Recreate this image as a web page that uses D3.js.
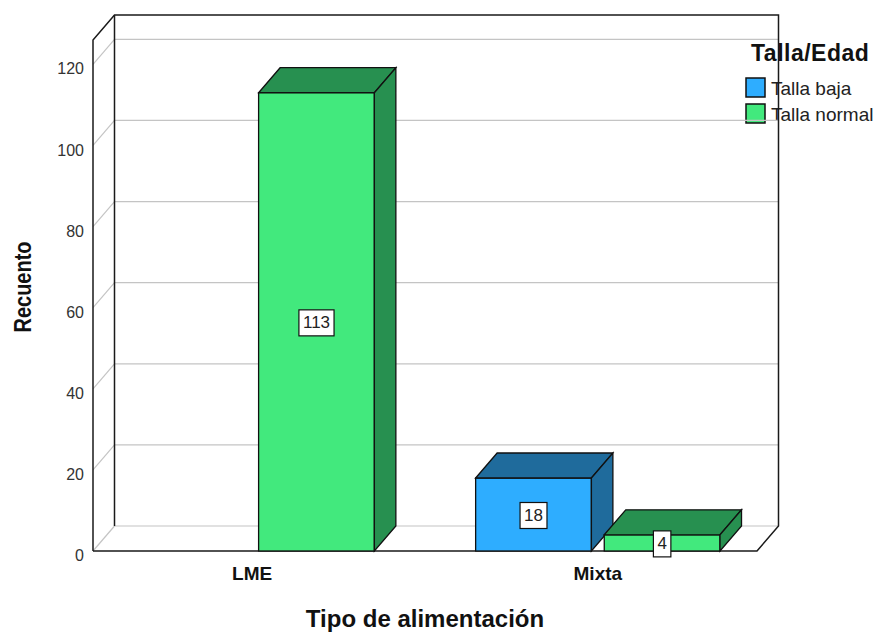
<!DOCTYPE html>
<html>
<head>
<meta charset="utf-8">
<script src="https://cdn.jsdelivr.net/npm/d3@7"></script>
<style>
  body { margin: 0; background: #fff; }
  text { font-family: "Liberation Sans", Arial, sans-serif; }
</style>
</head>
<body>
<div id="chart"></div>
<script>
// data
var categories = ["LME", "Mixta"];
var series = ["Talla baja", "Talla normal"];
var tallaBaja = [0, 18];
var tallaNormal = [113, 4];
var yTicks = [0, 20, 40, 60, 80, 100, 120];
var yMax = 126;

var w = 879;
var h = 633;
var plotLeft = 93, plotRight = 757, plotBottom = 551, plotTop = 40;
var dx = 21.5, dy = -25;   // depth of the 3d box

var frontColors = ["#2eadff", "#42e97d"];
var darkColors = ["#1f6b9c", "#279050"];

var svg = d3.select("#chart")
    .append("svg")
    .attr("width", w)
    .attr("height", h);

var yScale = d3.scaleLinear()
    .domain([0, yMax])
    .range([plotBottom, plotTop]);

var xScale = d3.scaleBand()
    .domain(categories)
    .range([plotLeft, plotRight])
    .paddingInner(0.293)
    .paddingOuter(0.107);

var subScale = d3.scaleBand()
    .domain(series)
    .range([0, xScale.bandwidth()])
    .paddingInner(0.1);

// rows for the bars
var rows = [];
categories.forEach(function (c, i) {
    rows.push({ cat: c, s: 0, value: tallaBaja[i] });
    rows.push({ cat: c, s: 1, value: tallaNormal[i] });
});

//Legend (drawn first, the frame line runs over it)
var legend = svg.append("g");
legend.append("text")
    .attr("x", 751)
    .attr("y", 61)
    .attr("font-size", "23px")
    .attr("font-weight", "bold")
    .attr("letter-spacing", "0.5px")
    .attr("fill", "#111")
    .text("Talla/Edad");

legend.selectAll("rect")
    .data(series)
    .enter()
    .append("rect")
    .attr("x", 746)
    .attr("y", function (d, i) { return 78 + i * 26; })
    .attr("width", 19)
    .attr("height", 19)
    .attr("fill", function (d, i) { return frontColors[i]; })
    .attr("stroke", "#111")
    .attr("stroke-width", 1.5);

legend.selectAll("text.item")
    .data(series)
    .enter()
    .append("text")
    .attr("class", "item")
    .attr("x", 771)
    .attr("y", function (d, i) { return 88 + i * 26; })
    .attr("dominant-baseline", "central")
    .attr("font-size", "19px")
    .attr("fill", "#222")
    .text(function (d) { return d; });

//Grid lines on back wall and left side
var grid = svg.append("g")
    .attr("stroke", "#c4c4c4")
    .attr("stroke-width", 1.2)
    .attr("fill", "none");

grid.selectAll("line.back")
    .data(yTicks)
    .enter()
    .append("line")
    .attr("class", "back")
    .attr("x1", plotLeft + dx)
    .attr("x2", plotRight + dx)
    .attr("y1", function (d) { return yScale(d) + dy; })
    .attr("y2", function (d) { return yScale(d) + dy; });

grid.selectAll("line.side")
    .data(yTicks)
    .enter()
    .append("line")
    .attr("class", "side")
    .attr("x1", plotLeft)
    .attr("x2", plotLeft + dx)
    .attr("y1", function (d) { return yScale(d); })
    .attr("y2", function (d) { return yScale(d) + dy; });

//Frame
var y0 = yScale(0), yTop = yScale(yMax);
var frame = [
    [[plotLeft, y0], [plotLeft, yTop], [plotLeft + dx, yTop + dy], [plotRight + dx, yTop + dy], [plotRight + dx, y0 + dy], [plotRight, y0], [plotLeft, y0]],
    [[plotLeft + dx, yTop + dy], [plotLeft + dx, y0 + dy]]
];
svg.selectAll("path.frame")
    .data(frame)
    .enter()
    .append("path")
    .attr("class", "frame")
    .attr("d", d3.line())
    .attr("fill", "none")
    .attr("stroke", "#1a1a1a")
    .attr("stroke-width", 1.5);

//Y axis
var yAxis = d3.axisLeft()
    .scale(yScale)
    .tickValues(yTicks)
    .tickSize(0)
    .tickPadding(9);

var gy = svg.append("g")
    .attr("transform", "translate(" + plotLeft + ",0)")
    .call(yAxis);
gy.select(".domain").remove();
gy.selectAll("text")
    .attr("dy", "0.32em")
    .attr("transform", "translate(0,4.5)")
    .attr("font-family", "Liberation Sans, Arial, sans-serif")
    .attr("font-size", "16px")
    .attr("fill", "#333");

//Bars as 3d blocks
var bars = svg.selectAll("g.bar")
    .data(rows.filter(function (d) { return d.value > 0; }))
    .enter()
    .append("g")
    .attr("class", "bar");

function barX(d) { return xScale(d.cat) + subScale(series[d.s]); }
var bw = subScale.bandwidth();

bars.append("rect")
    .attr("x", barX)
    .attr("y", function (d) { return yScale(d.value); })
    .attr("width", bw)
    .attr("height", function (d) { return y0 - yScale(d.value); })
    .attr("fill", function (d) { return frontColors[d.s]; })
    .attr("stroke", "#111")
    .attr("stroke-width", 1.3);

// top face
bars.append("path")
    .attr("d", function (d) {
        var x = barX(d), y = yScale(d.value);
        return d3.line()([[x, y], [x + dx, y + dy], [x + bw + dx, y + dy], [x + bw, y]]) + "Z";
    })
    .attr("fill", function (d) { return darkColors[d.s]; })
    .attr("stroke", "#111")
    .attr("stroke-width", 1.3);

// side face
bars.append("path")
    .attr("d", function (d) {
        var x = barX(d) + bw, y = yScale(d.value);
        return d3.line()([[x, y], [x + dx, y + dy], [x + dx, y0 + dy], [x, y0]]) + "Z";
    })
    .attr("fill", function (d) { return darkColors[d.s]; })
    .attr("stroke", "#111")
    .attr("stroke-width", 1.3);

// value labels in white boxes
var labels = bars.append("g")
    .attr("transform", function (d) {
        return "translate(" + (barX(d) + bw / 2) + "," + ((yScale(d.value) + y0) / 2 + 1) + ")";
    });
labels.append("text")
    .attr("text-anchor", "middle")
    .attr("dominant-baseline", "central")
    .attr("font-size", "17px")
    .attr("fill", "#222")
    .text(function (d) { return d.value; });
labels.each(function () {
    var g = d3.select(this);
    var bb = g.select("text").node().getBBox();
    g.insert("rect", "text")
        .attr("x", bb.x - 4)
        .attr("y", -13)
        .attr("width", bb.width + 8)
        .attr("height", 26)
        .attr("fill", "#fff")
        .attr("stroke", "#111")
        .attr("stroke-width", 1.2);
});

//Category labels
svg.selectAll("text.cat")
    .data(categories)
    .enter()
    .append("text")
    .attr("class", "cat")
    .attr("x", function (d) { return xScale(d) + xScale.bandwidth() / 2; })
    .attr("y", 580)
    .attr("text-anchor", "middle")
    .attr("font-size", "19px")
    .attr("font-weight", "bold")
    .attr("fill", "#111")
    .text(function (d) { return d; });

//Axis titles
svg.append("text")
    .attr("x", (plotLeft + plotRight) / 2)
    .attr("y", 627)
    .attr("text-anchor", "middle")
    .attr("font-size", "24px")
    .attr("font-weight", "bold")
    .attr("fill", "#111")
    .text("Tipo de alimentación");

svg.append("text")
    .attr("transform", "translate(31,287) rotate(-90) scale(1,1.15)")
    .attr("text-anchor", "middle")
    .attr("font-size", "20px")
    .attr("font-weight", "bold")
    .attr("fill", "#111")
    .text("Recuento");
</script>
</body>
</html>
